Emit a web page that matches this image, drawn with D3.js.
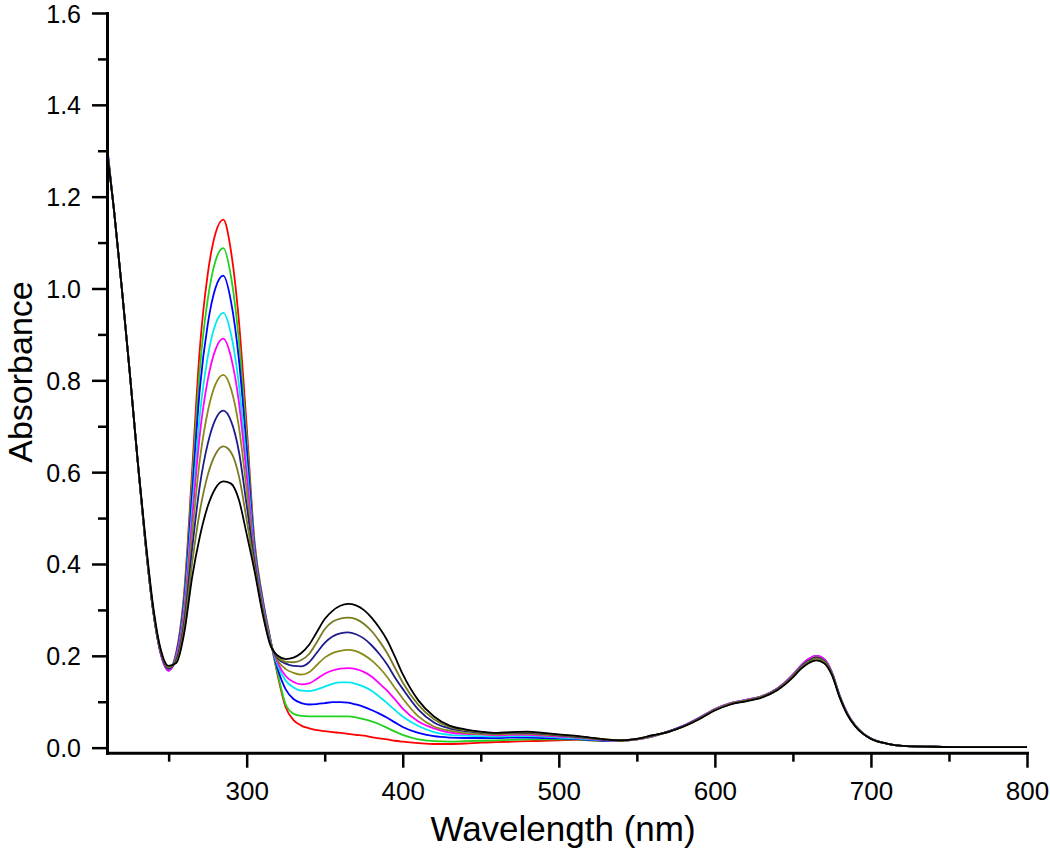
<!DOCTYPE html>
<html>
<head>
<meta charset="utf-8">
<script src="https://cdn.jsdelivr.net/npm/d3@7"></script>
<style>
body { margin: 0; background: #fff; }
svg text { font-family: "Liberation Sans", Arial, Helvetica, sans-serif; fill: #000; }
</style>
</head>
<body>
<div class="chart"></div>
<script>
// wavelength grid (nm) shared by all the spectra
var wavelengths = [210,215,220,225,230,235,240,245,250,255,260,265,270,275,280,285,290,295,300,305,310,315,
    320,325,330,335,340,345,350,355,360,365,370,375,380,385,390,395,400,410,420,430,440,450,
    460,470,480,490,500,510,520,530,540,550,560,570,580,590,600,610,620,630,640,650,
    655,660,665,670,675,680,685,690,695,700,710,720,740,760,780,800];

// absorbance, one list per trace (red first ... black last)
var absRed = [1.32,1.17,1.00,0.82,0.63,0.45,0.30,0.205, 0.170,
    0.21,0.34,0.60,0.87,1.03,1.12,1.15,1.08,0.93,0.70,0.45,0.33,0.24,
    0.155,0.088,0.060,0.048,0.042,0.038,0.036,0.034,0.032,0.030,0.028,0.026,0.023,0.020,0.018,0.015,0.013,
    0.010,0.008,0.008,0.009,0.011,
    0.012,0.013,0.014,0.015,0.016,0.017,0.016,0.015,0.015,0.018,0.024,
    0.035,0.047,0.064,0.083,0.096,0.103,0.111,0.128,0.158,
    0.177,0.191,0.198,0.191,0.163,0.112,0.073,0.048,0.031,0.020,
    0.009,0.004,0.002,0.001,0.001,0.001];
var absGreen = [1.32,1.17,1.00,0.82,0.63,0.45,0.30,0.205, 0.170,
    0.207,0.330,0.575,0.825,0.975,1.060,1.088,1.025,0.887,0.674,0.443,0.326,0.238,
    0.160,0.094,0.074,0.069,0.068,0.068,0.068,0.068,0.068,0.068,0.066,0.062,0.057,0.051,0.043,0.035,0.028,
    0.018,0.014,0.013,0.014,0.015,
    0.016,0.017,0.018,0.018,0.018,0.018,0.016,0.015,0.015,0.018,0.024,
    0.035,0.047,0.064,0.083,0.096,0.103,0.111,0.128,0.158,
    0.177,0.192,0.199,0.192,0.163,0.112,0.073,0.048,0.031,0.020,
    0.009,0.004,0.002,0.001,0.001,0.001];
var absBlue = [1.33,1.17,1.00,0.82,0.63,0.45,0.30,0.204, 0.168,
    0.205,0.321,0.551,0.782,0.921,1.001,1.028,0.971,0.846,0.650,0.436,0.323,0.237,
    0.170,0.127,0.106,0.097,0.094,0.095,0.097,0.099,0.099,0.098,0.094,0.089,0.082,0.074,0.065,0.055,0.045,
    0.032,0.025,0.022,0.021,0.021,
    0.021,0.022,0.022,0.021,0.020,0.019,0.017,0.015,0.015,0.018,0.025,
    0.035,0.048,0.065,0.084,0.097,0.104,0.112,0.129,0.159,
    0.178,0.193,0.200,0.193,0.164,0.113,0.074,0.048,0.031,0.020,
    0.009,0.004,0.002,0.001,0.001,0.001];
var absCyan = [1.32,1.17,1.00,0.82,0.63,0.45,0.30,0.205, 0.169,
    0.201,0.308,0.518,0.724,0.850,0.922,0.947,0.900,0.791,0.616,0.427,0.318,0.235,
    0.178,0.146,0.131,0.124,0.123,0.127,0.133,0.139,0.142,0.142,0.139,0.133,0.124,0.111,0.097,0.082,0.068,
    0.047,0.034,0.028,0.026,0.025,
    0.024,0.025,0.025,0.024,0.022,0.020,0.018,0.016,0.015,0.018,0.025,
    0.035,0.048,0.065,0.084,0.097,0.104,0.112,0.129,0.159,
    0.178,0.192,0.199,0.192,0.164,0.113,0.074,0.048,0.031,0.020,
    0.009,0.004,0.002,0.001,0.001,0.001];
var absMagenta = [1.32,1.17,1.00,0.82,0.63,0.45,0.30,0.204, 0.168,
    0.199,0.299,0.495,0.683,0.800,0.867,0.891,0.850,0.753,0.593,0.420,0.314,0.233,
    0.184,0.156,0.143,0.138,0.140,0.150,0.161,0.168,0.172,0.173,0.171,0.165,0.155,0.140,0.124,0.105,0.085,
    0.057,0.042,0.033,0.030,0.029,
    0.027,0.028,0.028,0.026,0.024,0.022,0.019,0.016,0.015,0.018,0.025,
    0.035,0.048,0.065,0.084,0.097,0.104,0.112,0.129,0.159,
    0.178,0.193,0.200,0.193,0.164,0.113,0.074,0.048,0.031,0.020,
    0.009,0.004,0.002,0.001,0.001,0.001];
var absOlive1 = [1.32,1.17,1.00,0.82,0.63,0.45,0.30,0.207, 0.172,
    0.195,0.287,0.464,0.627,0.731,0.791,0.812,0.781,0.699,0.561,0.411,0.309,0.231,
    0.189,0.171,0.163,0.159,0.164,0.180,0.196,0.206,0.211,0.213,0.210,0.202,0.190,0.174,0.154,0.130,0.107,
    0.068,0.046,0.037,0.032,0.030,
    0.029,0.030,0.030,0.028,0.026,0.023,0.020,0.017,0.015,0.018,0.026,
    0.035,0.047,0.064,0.083,0.096,0.103,0.111,0.128,0.157,
    0.176,0.190,0.197,0.190,0.162,0.112,0.073,0.048,0.031,0.020,
    0.009,0.004,0.002,0.001,0.001,0.001];
var absNavy = [1.32,1.17,1.00,0.82,0.63,0.45,0.30,0.207, 0.172,
    0.192,0.274,0.432,0.571,0.661,0.715,0.734,0.711,0.645,0.528,0.403,0.304,0.229,
    0.194,0.183,0.178,0.177,0.186,0.207,0.228,0.242,0.249,0.251,0.247,0.238,0.223,0.204,0.181,0.153,0.128,
    0.083,0.055,0.042,0.036,0.033,
    0.031,0.032,0.032,0.030,0.027,0.024,0.021,0.017,0.016,0.019,0.026,
    0.035,0.047,0.064,0.082,0.095,0.102,0.110,0.127,0.156,
    0.175,0.189,0.196,0.189,0.161,0.111,0.072,0.047,0.030,0.020,
    0.009,0.004,0.002,0.001,0.001,0.001];
var absOlive2 = [1.32,1.17,1.00,0.82,0.63,0.455,0.305,0.210, 0.175,
    0.188,0.262,0.401,0.515,0.593,0.639,0.656,0.643,0.592,0.496,0.394,0.300,0.227,
    0.197,0.187,0.186,0.191,0.204,0.230,0.258,0.274,0.281,0.283,0.280,0.270,0.254,0.232,0.206,0.174,0.142,
    0.093,0.062,0.045,0.038,0.034,
    0.032,0.033,0.034,0.031,0.028,0.025,0.021,0.018,0.016,0.019,0.026,
    0.034,0.046,0.063,0.082,0.095,0.102,0.110,0.126,0.155,
    0.173,0.187,0.194,0.187,0.160,0.110,0.072,0.047,0.030,0.019,
    0.009,0.004,0.002,0.001,0.001,0.001];
var absBlack = [1.31,1.17,1.00,0.82,0.63,0.46,0.31,0.213, 0.178,
    0.185,0.250,0.370,0.460,0.525,0.565,0.580,0.575,0.540,0.465,0.385,0.295,0.225,
    0.200,0.193,0.196,0.206,0.224,0.252,0.280,0.298,0.309,0.313,0.310,0.300,0.283,0.261,0.234,0.198,0.160,
    0.103,0.068,0.048,0.040,0.035,
    0.032,0.034,0.035,0.032,0.029,0.026,0.022,0.018,0.016,0.019,0.027,
    0.034,0.046,0.062,0.081,0.094,0.101,0.109,0.125,0.153,
    0.171,0.184,0.190,0.184,0.158,0.109,0.071,0.046,0.030,0.019,
    0.009,0.004,0.002,0.001,0.001,0.001];

var seriesColors = ["#ff0000","#1ed21e","#0000ff","#00e8f0","#ff00ff","#8a8a1a","#1c1c8a","#7a7a20","#000000"];

// tick values
var xMajor = [300,400,500,600,700,800];
var xMinor = [250,350,450,550,650,750];
var yMajor = [0,0.2,0.4,0.6,0.8,1.0,1.2,1.4,1.6];
var yMinor = [0.1,0.3,0.5,0.7,0.9,1.1,1.3,1.5];

var series = [absRed, absGreen, absBlue, absCyan, absMagenta, absOlive1, absNavy, absOlive2, absBlack];

var width = 1050, height = 848;
var plot = {left: 107, right: 1027, top: 13, bottom: 752.7};

var svg = d3.select(".chart").append("svg")
    .attr("width", width)
    .attr("height", height);

var x = d3.scaleLinear().domain([210.5, 800]).range([plot.left, plot.right]);
var y = d3.scaleLinear().domain([-0.011, 1.6]).range([plot.bottom, plot.top]);

svg.append("clipPath").attr("id", "plotclip")
    .append("rect")
    .attr("x", plot.left).attr("y", 0)
    .attr("width", plot.right - plot.left + 2)
    .attr("height", plot.bottom);

// the spectra, black drawn last so it sits on top
var line = d3.line()
    .x(function(d) { return x(d[0]); })
    .y(function(d) { return y(d[1]); })
    .curve(d3.curveMonotoneX);

svg.append("g").attr("clip-path", "url(#plotclip)")
    .selectAll("path")
    .data(series)
    .enter().append("path")
    .attr("fill", "none")
    .attr("stroke", function(d, i) { return seriesColors[i]; })
    .attr("stroke-width", 1.8)
    .attr("stroke-linejoin", "round")
    .attr("d", function(vals) {
        return line(vals.map(function(v, i) { return [wavelengths[i], v]; }));
    });

// axes
function styleAxis(g, fontSize) {
    g.select(".domain").attr("stroke-width", 3).attr("stroke-linecap", "square");
    g.selectAll(".tick line").attr("stroke-width", 2.5);
    g.selectAll(".tick text").style("font-size", fontSize + "px").attr("fill", "#000");
}

svg.append("g")
    .attr("transform", "translate(0," + plot.bottom + ")")
    .call(d3.axisBottom(x).tickValues(xMinor).tickSize(9).tickSizeOuter(0).tickFormat(""))
    .call(function(g) { g.select(".domain").remove(); g.selectAll(".tick line").attr("stroke-width", 2.5); });

svg.append("g")
    .attr("transform", "translate(" + plot.left + ",0)")
    .call(d3.axisLeft(y).tickValues(yMinor).tickSize(9).tickSizeOuter(0).tickFormat(""))
    .call(function(g) { g.select(".domain").remove(); g.selectAll(".tick line").attr("stroke-width", 2.5); });

svg.append("g")
    .attr("transform", "translate(0," + plot.bottom + ")")
    .call(d3.axisBottom(x).tickValues(xMajor).tickSize(15).tickSizeOuter(0).tickPadding(14).tickFormat(d3.format("d")))
    .call(styleAxis, 26);

svg.append("g")
    .attr("transform", "translate(" + plot.left + ",0)")
    .call(d3.axisLeft(y).tickValues(yMajor).tickSize(15).tickSizeOuter(0).tickPadding(11).tickFormat(d3.format(".1f")))
    .call(styleAxis, 25)
    .call(function(g) { g.selectAll(".tick text").attr("dy", "0.36em"); });

// axis titles
svg.append("text")
    .attr("x", 563).attr("y", 841)
    .attr("text-anchor", "middle")
    .style("font-size", "35px")
    .text("Wavelength (nm)");

svg.append("text")
    .attr("transform", "translate(32,372) rotate(-90)")
    .attr("text-anchor", "middle")
    .style("font-size", "34px")
    .text("Absorbance");
</script>
</body>
</html>
